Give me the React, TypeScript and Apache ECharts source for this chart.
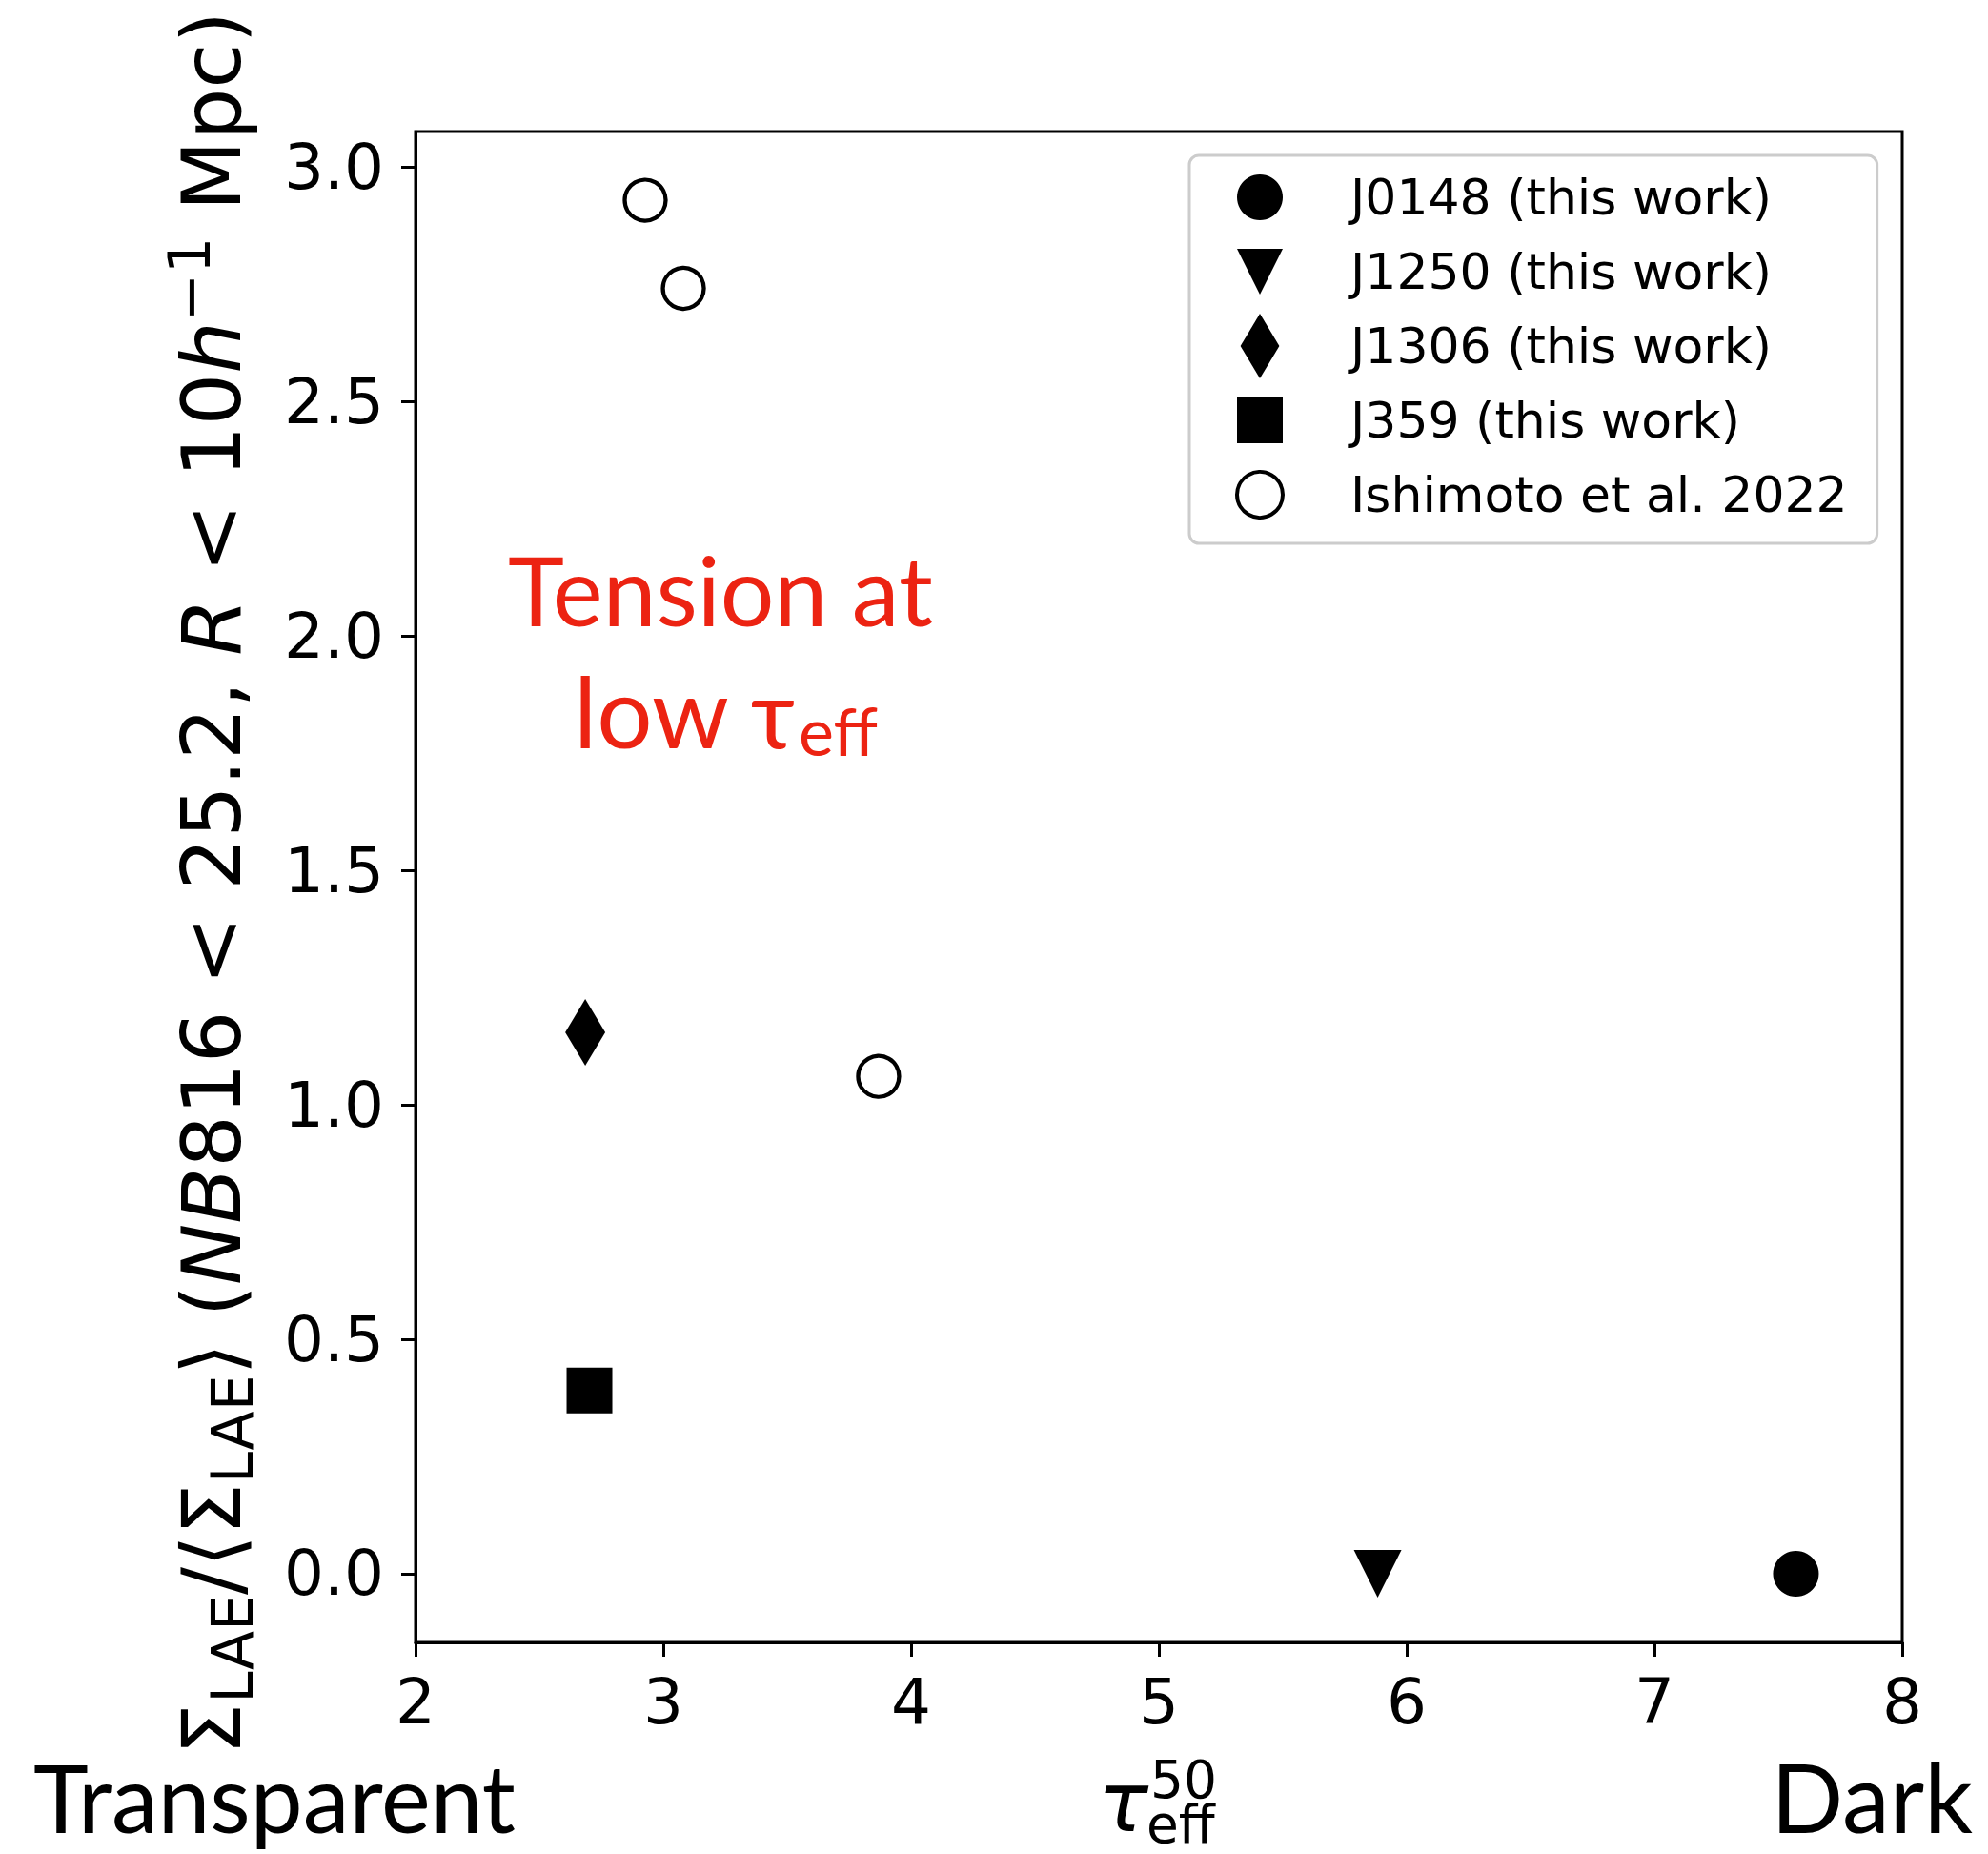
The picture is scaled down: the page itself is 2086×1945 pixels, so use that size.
import { useEffect, useRef } from "react";
import * as echarts from "echarts";

// Axis ranges and ticks
const xMin = 2;
const xMax = 8;
const yMin = -0.1465;
const yMax = 3.0765;
const xTickValues = [2, 3, 4, 5, 6, 7, 8];
const yTickValues = [0, 0.5, 1.0, 1.5, 2.0, 2.5, 3.0];

// Measurements: [tau_eff^50, Sigma_LAE / <Sigma_LAE>]
const j0148Data = [[7.571, 0.0]];
const j1250Data = [[5.883, 0.0]];
const j1306Data = [[2.685, 1.155]];
const j359Data = [[2.702, 0.391]];
const ishimotoData = [
  [2.927, 2.93],
  [3.081, 2.742],
  [3.869, 1.061],
];

const seriesNames = [
  "J0148 (this work)",
  "J1250 (this work)",
  "J1306 (this work)",
  "J359 (this work)",
  "Ishimoto et al. 2022",
];

const TRIANGLE_DOWN = "path://M-1,-1 L1,-1 L0,1 Z";
const THIN_DIAMOND = "path://M0,-1 L0.6,0 L0,1 L-0.6,0 Z";
const SQUARE = "path://M-1,-1 L1,-1 L1,1 L-1,1 Z";

const DEJAVU = "'DejaVu Sans', sans-serif";
const HUMANIST = "Lato, 'Noto Sans', sans-serif";
const RED = "#ec2312";

export default function App() {
  const ref = useRef<HTMLDivElement>(null);

  useEffect(() => {
    if (!ref.current) return;
    const chart = echarts.init(ref.current, undefined, { renderer: "svg" });

    const main = { fontSize: 86, lineHeight: 105, fontFamily: DEJAVU, color: "#000" };
    const ital = { ...main, fontStyle: "italic" };
    const sub = { fontSize: 60, lineHeight: 60, fontFamily: DEJAVU, color: "#000", verticalAlign: "bottom" };
    const sup = { fontSize: 60, lineHeight: 60, fontFamily: DEJAVU, color: "#000", verticalAlign: "top" };

    const yName =
      "{m|Σ}{s|LAE}{m|/⟨Σ}{s|LAE}{m|⟩ (}{i|NB}{m|816 < 25.2, }{i|R}{m| < 10}{i|h}{p|−1}{m| Mpc)}";

    const option: any = {
      animation: false,
      backgroundColor: "#ffffff",
      grid: {
        left: 436,
        right: 90,
        top: 138,
        bottom: 222,
        show: true,
        borderColor: "#000",
        borderWidth: 3,
        backgroundColor: "transparent",
        containLabel: false,
        outerBoundsMode: "none",
      },
      xAxis: {
        type: "value",
        min: xMin,
        max: xMax,
        interval: 1,
        axisLine: { show: true, onZero: false, lineStyle: { color: "#000", width: 3 } },
        axisTick: { show: true, inside: false, length: 15, lineStyle: { color: "#000", width: 3 }, customValues: xTickValues },
        axisLabel: {
          fontSize: 66,
          fontFamily: DEJAVU,
          color: "#000",
          margin: 29,
          customValues: xTickValues,
          formatter: (v: number) => String(v),
        },
        splitLine: { show: false },
      },
      yAxis: {
        type: "value",
        min: yMin,
        max: yMax,
        axisLine: { show: true, onZero: false, lineStyle: { color: "#000", width: 3 } },
        axisTick: { show: true, inside: false, length: 15, lineStyle: { color: "#000", width: 3 }, customValues: yTickValues },
        axisLabel: {
          fontSize: 66,
          fontFamily: DEJAVU,
          color: "#000",
          margin: 33,
          customValues: yTickValues,
          formatter: (v: number) => v.toFixed(1),
        },
        splitLine: { show: false },
        name: yName,
        nameLocation: "middle",
        nameRotate: 90,
        nameGap: 162,
        nameMoveOverlap: false,
        nameTextStyle: {
          rich: { m: main, i: ital, s: sub, p: sup },
          padding: [0, 0, 0, 8],
        },
      },
      legend: {
        orient: "vertical",
        left: 1248,
        top: 163,
        padding: [5, 31, 12, 48],
        itemWidth: 48,
        itemHeight: 68,
        itemGap: 0,
        backgroundColor: "rgba(255,255,255,0.8)",
        borderColor: "#cccccc",
        borderWidth: 3,
        borderRadius: 10,
        selectedMode: false,
        textStyle: {
          fontSize: 52,
          lineHeight: 78,
          fontFamily: DEJAVU,
          color: "#000",
          padding: [0, 0, 0, 66],
        },
        data: [
          { name: seriesNames[0], icon: "circle" },
          { name: seriesNames[1], icon: TRIANGLE_DOWN },
          { name: seriesNames[2], icon: THIN_DIAMOND },
          { name: seriesNames[3], icon: SQUARE },
          {
            name: seriesNames[4],
            icon: "circle",
            itemStyle: { color: "#fff", borderColor: "#000", borderWidth: 4 },
          },
        ],
      },
      series: [
        {
          name: seriesNames[0],
          type: "scatter",
          data: j0148Data,
          symbol: "circle",
          symbolSize: 48,
          itemStyle: { color: "#000", opacity: 1 },
        },
        {
          name: seriesNames[1],
          type: "scatter",
          data: j1250Data,
          symbol: TRIANGLE_DOWN,
          symbolSize: 50,
          itemStyle: { color: "#000", opacity: 1 },
        },
        {
          name: seriesNames[2],
          type: "scatter",
          data: j1306Data,
          symbol: THIN_DIAMOND,
          symbolSize: [42, 70],
          itemStyle: { color: "#000", opacity: 1 },
        },
        {
          name: seriesNames[3],
          type: "scatter",
          data: j359Data,
          symbol: SQUARE,
          symbolSize: 48,
          itemStyle: { color: "#000", opacity: 1 },
        },
        {
          name: seriesNames[4],
          type: "scatter",
          data: ishimotoData,
          symbol: "circle",
          symbolSize: 43,
          itemStyle: { color: "#fff", borderColor: "#000", borderWidth: 4.3, opacity: 1 },
        },
      ],
      graphic: [
        // x-axis label: tau_eff^50
        {
          type: "text",
          x: 1152,
          y: 1890,
          style: { text: "τ", fontSize: 88, fontStyle: "italic", fontFamily: DEJAVU, fill: "#000", align: "left", verticalAlign: "middle" },
        },
        {
          type: "text",
          x: 1207,
          y: 1867,
          style: { text: "50", fontSize: 55, fontFamily: DEJAVU, fill: "#000", align: "left", verticalAlign: "middle" },
        },
        {
          type: "text",
          x: 1203,
          y: 1914,
          style: { text: "eff", fontSize: 55, fontFamily: DEJAVU, fill: "#000", align: "left", verticalAlign: "middle" },
        },
        // scale ends
        {
          type: "text",
          x: 35,
          y: 1885,
          style: { text: "Transparent", fontSize: 98, fontFamily: HUMANIST, fill: "#000", align: "left", verticalAlign: "middle" },
        },
        {
          type: "text",
          x: 2070,
          y: 1884,
          style: { text: "Dark", fontSize: 100, fontFamily: HUMANIST, fill: "#000", align: "right", verticalAlign: "middle" },
        },
        // annotation
        {
          type: "text",
          x: 533,
          y: 618,
          style: { text: "Tension at", fontSize: 100, fontFamily: HUMANIST, fill: RED, align: "left", verticalAlign: "middle" },
        },
        {
          type: "text",
          x: 602,
          y: 745,
          style: { text: "low", fontSize: 103, fontFamily: HUMANIST, fill: RED, align: "left", verticalAlign: "middle" },
        },
        {
          type: "text",
          x: 811,
          y: 746,
          style: { text: "τ", fontSize: 100, fontFamily: HUMANIST, fill: RED, align: "center", verticalAlign: "middle" },
        },
        {
          type: "text",
          x: 838,
          y: 766,
          style: { text: "eff", fontSize: 70, fontFamily: HUMANIST, fill: RED, align: "left", verticalAlign: "middle" },
        },
      ],
    };

    chart.setOption(option);
    return () => chart.dispose();
  }, []);

  return (
    <div
      ref={ref}
      style={{ position: "absolute", left: 0, top: 0, width: 2086, height: 1945, background: "#fff" }}
    />
  );
}
